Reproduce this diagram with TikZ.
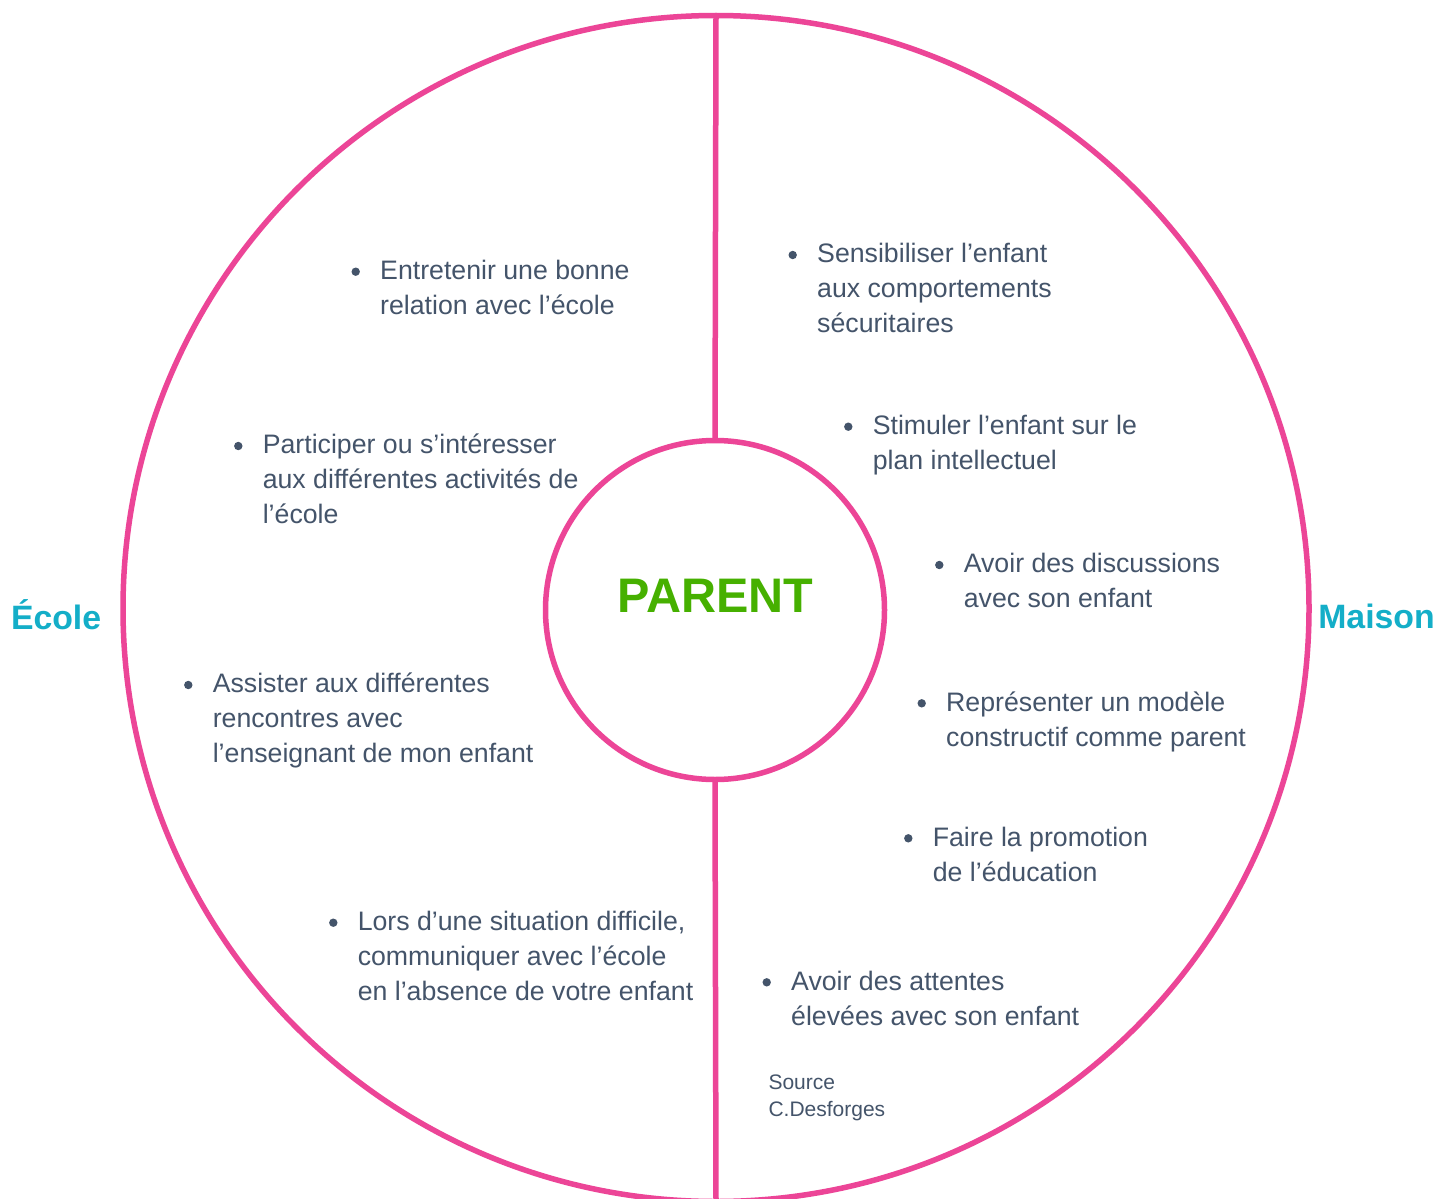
\documentclass[tikz,border=0pt]{standalone}
\usepackage{fontspec}
\setmainfont{Liberation Sans}
\definecolor{pinkc}{HTML}{EC4597}
\definecolor{txtcol}{HTML}{44546A}
\definecolor{greenc}{HTML}{46B000}
\definecolor{cyanc}{HTML}{14AEC8}
\tikzset{
  ring/.style={circle, draw=pinkc, line width=5.5pt, inner sep=0pt, outer sep=0pt},
  spoke/.style={draw=pinkc, line width=5.5pt},
  txt/.style={anchor=base west, inner sep=0pt, outer sep=0pt, text=txtcol, font=\fontsize{26.7}{35}\selectfont},
  srctxt/.style={anchor=base west, inner sep=0pt, outer sep=0pt, text=txtcol, font=\fontsize{21}{28}\selectfont},
  side/.style={anchor=base west, inner sep=0pt, outer sep=0pt, text=cyanc, font=\fontsize{33.8}{40}\selectfont\bfseries},
}
\newcommand\bitem[4]{%
  \fill[txtcol] (#2,#3) circle (4.2);
  \foreach \ln [count=\k from 0] in {#4}{
    \node[txt] (#1-\k) at ({#2+24.5},{#3+7.8+35*\k}) {\ln};
  }
}
\begin{document}
\begin{tikzpicture}[x=1pt, y=-1pt]
\useasboundingbox (0,0) rectangle (1451,1199);
\fill[white] (0,0) rectangle (1451,1199);
\node[ring, minimum size=1186pt] (outer) at (716,608.5) {};
\node[ring, fill=white, minimum size=339pt] (inner) at (715,610) {};
\draw[spoke] (outer.north) -- (inner.north);
\draw[spoke] (inner.south) -- (outer.south);
\node[anchor=base, inner sep=0pt, text=greenc, font=\fontsize{48.5}{55}\selectfont\bfseries] (parent) at (715.5,612) {PARENT};
\node[side] (ecole) at (11,629) {École};
\node[side] (maison) at (1318.3,628.5) {Maison};
% Ecole side
\bitem{a}{355.7}{271.7}{{Entretenir une bonne},{relation avec l’école}}
\bitem{b}{238.3}{446}{{Participer ou s’intéresser},{aux différentes activités de},{l’école}}
\bitem{c}{188.3}{685}{{Assister aux différentes},{rencontres avec},{l’enseignant de mon enfant}}
\bitem{d}{333.3}{922.7}{{Lors d’une situation difficile,},{communiquer avec l’école},{en l’absence de votre enfant}}
% Maison side
\bitem{e}{792.7}{255}{{Sensibiliser l’enfant},{aux comportements},{sécuritaires}}
\bitem{f}{848.3}{426.7}{{Stimuler l’enfant sur le},{plan intellectuel}}
\bitem{g}{939.3}{565}{{Avoir des discussions},{avec son enfant}}
\bitem{h}{921.7}{703.3}{{Représenter un modèle},{constructif comme parent}}
\bitem{i}{908.3}{838.3}{{Faire la promotion},{de l’éducation}}
\bitem{j}{766.7}{982.3}{{Avoir des attentes},{élevées avec son enfant}}
\node[srctxt] (src1) at (768.5,1089.3) {Source};
\node[srctxt] (src2) at (768.5,1116.7) {C.Desforges};
\end{tikzpicture}
\end{document}
